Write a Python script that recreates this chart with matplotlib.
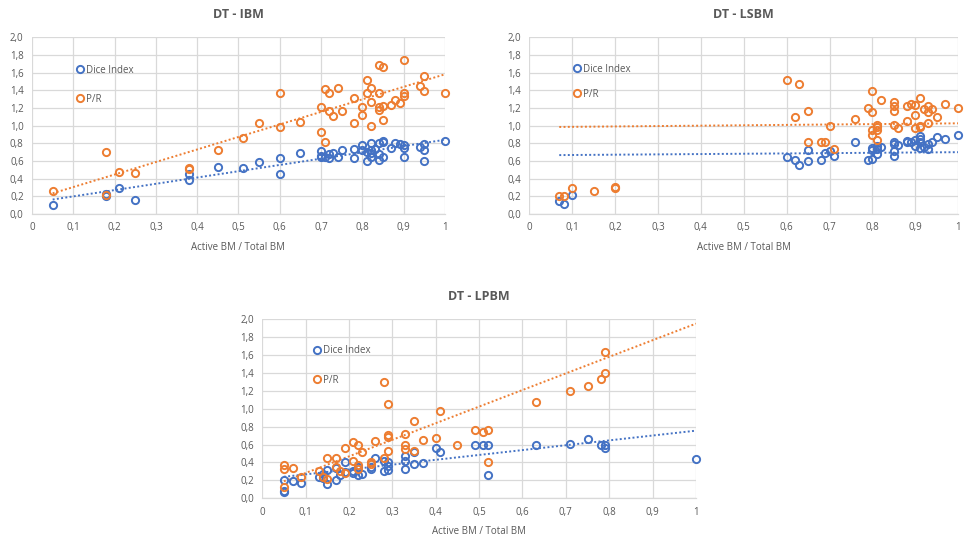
import matplotlib
matplotlib.use("Agg")
import matplotlib.pyplot as plt
import numpy as np
from matplotlib.ticker import FuncFormatter, MultipleLocator

plt.rcParams['font.family'] = ['Open Sans', 'DejaVu Sans']

BLUE = "#4472C4"
ORANGE = "#ED7D31"
TXT = "#595959"
GRID = "#D9D9D9"

# ---------------- DT - IBM ----------------
ibm_dice_x = [0.05, 0.18, 0.18, 0.21, 0.25, 0.38, 0.38, 0.45, 0.51, 0.55, 0.60, 0.60, 0.65,
              0.70, 0.70, 0.70, 0.71, 0.72, 0.72, 0.73, 0.74, 0.75, 0.78, 0.78, 0.80, 0.80,
              0.81, 0.81, 0.82, 0.82, 0.82, 0.82, 0.83, 0.84, 0.84, 0.84, 0.85, 0.85, 0.85,
              0.87, 0.88, 0.89, 0.90, 0.90, 0.90, 0.94, 0.95, 0.95, 0.95, 1.00]
ibm_dice_y = [0.10, 0.21, 0.23, 0.29, 0.16, 0.39, 0.45, 0.53, 0.52, 0.59, 0.63, 0.45, 0.69,
              0.71, 0.66, 0.65, 0.65, 0.68, 0.63, 0.69, 0.65, 0.73, 0.74, 0.63, 0.78, 0.72,
              0.70, 0.60, 0.80, 0.72, 0.69, 0.64, 0.74, 0.80, 0.68, 0.61, 0.83, 0.81, 0.64,
              0.75, 0.80, 0.79, 0.78, 0.75, 0.65, 0.76, 0.79, 0.73, 0.60, 0.83]
ibm_pr_x = [0.05, 0.18, 0.18, 0.21, 0.25, 0.38, 0.38, 0.45, 0.51, 0.55, 0.60, 0.60, 0.65,
            0.70, 0.70, 0.71, 0.71, 0.72, 0.72, 0.73, 0.74, 0.75, 0.78, 0.78, 0.80, 0.80,
            0.81, 0.81, 0.82, 0.82, 0.82, 0.84, 0.84, 0.84, 0.84, 0.85, 0.85, 0.85,
            0.87, 0.88, 0.89, 0.90, 0.90, 0.90, 0.94, 0.95, 0.95, 1.00]
ibm_pr_y = [0.26, 0.70, 0.22, 0.48, 0.46, 0.52, 0.51, 0.72, 0.86, 1.03, 1.37, 0.99, 1.04,
            1.21, 0.93, 1.41, 0.81, 1.37, 1.16, 1.11, 1.43, 1.16, 1.31, 1.03, 1.21, 1.12,
            1.51, 1.37, 1.42, 1.27, 1.00, 1.68, 1.37, 1.21, 1.18, 1.66, 1.22, 1.06,
            1.23, 1.29, 1.25, 1.74, 1.37, 1.34, 1.45, 1.56, 1.39, 1.37]
ibm_trend_x = [0.05, 1.00]
ibm_trend_dice = [0.165, 0.84]
ibm_trend_pr = [0.235, 1.58]

# ---------------- DT - LSBM ----------------
lsbm_dice_x = [0.07, 0.08, 0.10, 0.60, 0.62, 0.63, 0.65, 0.65, 0.68, 0.69, 0.70, 0.71, 0.76,
               0.79, 0.80, 0.80, 0.80, 0.81, 0.81, 0.81, 0.82, 0.85, 0.85, 0.85, 0.85, 0.86,
               0.88, 0.88, 0.89, 0.90, 0.90, 0.91, 0.91, 0.91, 0.91, 0.92, 0.93, 0.93, 0.94,
               0.95, 0.97, 1.00]
lsbm_dice_y = [0.15, 0.12, 0.22, 0.64, 0.61, 0.55, 0.72, 0.60, 0.61, 0.69, 0.71, 0.66, 0.81,
               0.61, 0.75, 0.73, 0.62, 0.77, 0.74, 0.68, 0.76, 0.81, 0.79, 0.71, 0.66, 0.78,
               0.83, 0.82, 0.81, 0.84, 0.77, 0.88, 0.85, 0.81, 0.75, 0.76, 0.79, 0.74, 0.82,
               0.87, 0.85, 0.89]
lsbm_pr_x = [0.07, 0.08, 0.10, 0.15, 0.20, 0.20, 0.60, 0.62, 0.63, 0.65, 0.65, 0.68, 0.69,
             0.70, 0.71, 0.76, 0.79, 0.80, 0.80, 0.80, 0.80, 0.81, 0.81, 0.81, 0.81, 0.82,
             0.85, 0.85, 0.85, 0.85, 0.86, 0.88, 0.88, 0.89, 0.90, 0.90, 0.90, 0.91, 0.91,
             0.91, 0.92, 0.93, 0.93, 0.93, 0.94, 0.95, 0.97, 1.00]
lsbm_pr_y = [0.21, 0.21, 0.30, 0.26, 0.31, 0.30, 1.52, 1.10, 1.47, 1.16, 0.81, 0.82, 0.82,
             1.00, 0.74, 1.07, 1.20, 1.39, 1.15, 0.95, 0.89, 1.01, 0.99, 0.95, 0.84, 1.29,
             1.27, 1.22, 1.16, 1.01, 0.97, 1.22, 1.05, 1.24, 1.23, 1.12, 0.97, 1.31, 1.00,
             0.98, 1.19, 1.22, 1.15, 1.03, 1.19, 1.10, 1.24, 1.20]
lsbm_trend_x = [0.07, 1.00]
lsbm_trend_dice = [0.667, 0.70]
lsbm_trend_pr = [0.985, 1.026]

# ---------------- DT - LPBM ----------------
lpbm_dice_x = [0.05, 0.05, 0.05, 0.07, 0.09, 0.13, 0.14, 0.14, 0.15, 0.15, 0.17, 0.17, 0.18,
               0.19, 0.19, 0.21, 0.21, 0.22, 0.22, 0.23, 0.25, 0.25, 0.26, 0.28, 0.28, 0.29,
               0.29, 0.29, 0.33, 0.33, 0.33, 0.35, 0.35, 0.37, 0.40, 0.41, 0.49, 0.51, 0.52,
               0.52, 0.63, 0.71, 0.75, 0.78, 0.79, 0.79, 1.00]
lpbm_dice_y = [0.20, 0.08, 0.07, 0.19, 0.17, 0.24, 0.27, 0.23, 0.32, 0.16, 0.20, 0.34, 0.26,
               0.40, 0.29, 0.30, 0.28, 0.35, 0.26, 0.27, 0.35, 0.33, 0.45, 0.42, 0.31, 0.40,
               0.36, 0.32, 0.47, 0.42, 0.33, 0.52, 0.38, 0.39, 0.56, 0.52, 0.60, 0.59, 0.60,
               0.26, 0.60, 0.61, 0.66, 0.59, 0.59, 0.56, 0.44]
lpbm_pr_x = [0.05, 0.05, 0.05, 0.07, 0.09, 0.13, 0.14, 0.15, 0.15, 0.17, 0.17, 0.18, 0.19,
             0.19, 0.21, 0.21, 0.22, 0.22, 0.22, 0.23, 0.25, 0.25, 0.26, 0.28, 0.28, 0.29,
             0.29, 0.29, 0.29, 0.33, 0.33, 0.33, 0.35, 0.35, 0.37, 0.40, 0.41, 0.45, 0.49,
             0.51, 0.52, 0.52, 0.63, 0.71, 0.75, 0.78, 0.79, 0.79]
lpbm_pr_y = [0.37, 0.33, 0.13, 0.34, 0.24, 0.31, 0.24, 0.45, 0.22, 0.45, 0.35, 0.30, 0.56,
             0.28, 0.63, 0.42, 0.59, 0.37, 0.33, 0.52, 0.41, 0.38, 0.64, 1.30, 0.45, 1.05,
             0.71, 0.68, 0.53, 0.72, 0.59, 0.55, 0.86, 0.53, 0.65, 0.67, 0.98, 0.60, 0.76,
             0.74, 0.76, 0.40, 1.08, 1.20, 1.25, 1.33, 1.63, 1.40]
lpbm_trend_x = [0.05, 1.00]
lpbm_trend_dice = [0.24, 0.755]
lpbm_trend_pr = [0.19, 1.95]

x_ticks = [0, 0.1, 0.2, 0.3, 0.4, 0.5, 0.6, 0.7, 0.8, 0.9, 1.0]
y_ticks = [0.0, 0.2, 0.4, 0.6, 0.8, 1.0, 1.2, 1.4, 1.6, 1.8, 2.0]
x_label = "Active BM / Total BM"

fig = plt.figure(figsize=(9.64, 5.38), dpi=100)
fig.patch.set_facecolor("white")


def xfmt(v, pos):
    if abs(v) < 1e-9:
        return "0"
    if abs(v - 1) < 1e-9:
        return "1"
    return f"{v:.1f}".replace(".", ",")


def yfmt(v, pos):
    return f"{v:.1f}".replace(".", ",")


def make(rect, title, dx, dy, px, py, tx, tdice, tpr, leg_anchor, spacing):
    ax = fig.add_axes(rect)
    ax.set_xlim(0, 1)
    ax.set_ylim(0, 2)
    ax.set_xticks(x_ticks)
    ax.set_yticks(y_ticks)
    ax.xaxis.set_major_formatter(FuncFormatter(xfmt))
    ax.yaxis.set_major_formatter(FuncFormatter(yfmt))
    ax.grid(True, color=GRID, lw=0.9)
    ax.set_axisbelow(True)
    for s in ("top", "right", "left"):
        ax.spines[s].set_visible(False)
    ax.spines["bottom"].set_color(GRID)
    ax.spines["bottom"].set_linewidth(0.9)
    ax.tick_params(length=0, labelsize=7, colors=TXT, pad=6)
    ax.plot(tx, tpr, ls=(0, (1, 1.2)), color=ORANGE, lw=1.4, zorder=2)
    ax.plot(tx, tdice, ls=(0, (1, 1.2)), color=BLUE, lw=1.4, zorder=2)
    ax.plot(dx, dy, ls="none", marker="o", ms=5.2, mfc="none", mec=BLUE, mew=1.4,
            label="Dice Index", clip_on=False, zorder=3)
    ax.plot(px, py, ls="none", marker="o", ms=5.2, mfc="none", mec=ORANGE, mew=1.4,
            label="P/R", clip_on=False, zorder=3)
    ax.set_title(title, fontsize=9, fontweight="bold", color=TXT, pad=14)
    ax.set_xlabel(x_label, fontsize=7, color=TXT, labelpad=6)
    leg = ax.legend(loc="upper left", bbox_to_anchor=leg_anchor, frameon=False,
                    fontsize=7, labelspacing=spacing, handlelength=0.8, handletextpad=0.2,
                    borderpad=0, borderaxespad=0)
    for t in leg.get_texts():
        t.set_color(TXT)
    return ax


make([0.0332, 0.602, 0.4284, 0.329], "DT - IBM", ibm_dice_x, ibm_dice_y, ibm_pr_x, ibm_pr_y,
     ibm_trend_x, ibm_trend_dice, ibm_trend_pr, (0.108, 0.845), 1.85)
make([0.549, 0.602, 0.445, 0.329], "DT - LSBM", lsbm_dice_x, lsbm_dice_y, lsbm_pr_x, lsbm_pr_y,
     lsbm_trend_x, lsbm_trend_dice, lsbm_trend_pr, (0.103, 0.85), 1.45)
make([0.272, 0.0738, 0.450, 0.333], "DT - LPBM", lpbm_dice_x, lpbm_dice_y, lpbm_pr_x, lpbm_pr_y,
     lpbm_trend_x, lpbm_trend_dice, lpbm_trend_pr, (0.118, 0.855), 1.9)

fig.savefig("out.png", dpi=100, facecolor="white")
